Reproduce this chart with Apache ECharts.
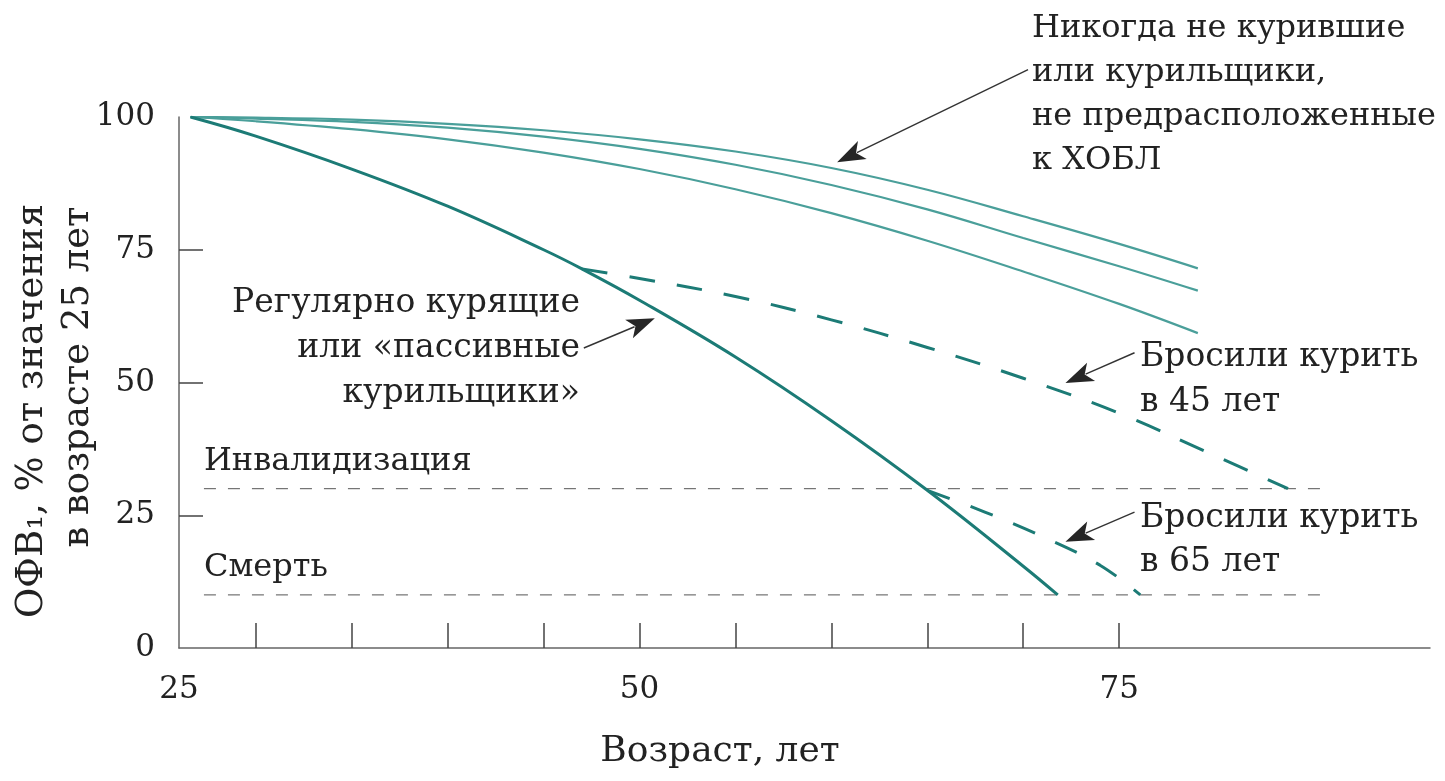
<!DOCTYPE html>
<html><head><meta charset="utf-8">
<script src="https://cdn.jsdelivr.net/npm/echarts@6/dist/echarts.min.js"></script>
<style>html,body{margin:0;padding:0;background:#fff}#c{width:1445px;height:781px}</style>
</head><body><div id="c"></div>
<script>
// ---- data ----
const smokerAge = [26.6, 30, 35, 40, 45, 47, 50, 55, 60, 65, 70, 71.8];
const smokerVal = [100, 96.4, 90.2, 83.2, 75.0, 71.4, 65.5, 54.8, 42.8, 29.7, 15.4, 10];

const quit45Age = [47, 50, 55, 60, 65, 70, 75, 80, 83.8];
const quit45Val = [71.4, 69.6, 66.2, 61.8, 56.6, 50.8, 44.2, 36.2, 30];

const quit65Age = [65, 68, 71, 74, 76.1];
const quit65Val = [29.7, 25.6, 21.0, 15.6, 10];

const healthyAge = [26.6, 30, 35, 40, 45, 50, 55, 60, 65, 70, 75, 79.1];
const healthyTop = [100, 99.9, 99.5, 98.7, 97.5, 95.8, 93.5, 90.4, 86.3, 81.3, 76.1, 71.5];
const healthyMid = [100, 99.7, 99.1, 98.0, 96.3, 94.0, 91.0, 87.2, 82.6, 77.2, 71.9, 67.3];
const healthyLow = [100, 99.2, 97.7, 95.8, 93.3, 90.2, 86.4, 81.9, 76.7, 70.9, 64.8, 59.3];

const refLevels = [30, 10];
const refLabels = ['Инвалидизация', 'Смерть'];
const refStart = 27.3, refEnd = 85.7;

const xTickValues = [30, 35, 40, 45, 50, 55, 60, 65, 70, 75];
const xLabelValues = [26, 50, 75];
const xLabelTexts = ['25', '50', '75'];
const yLabelValues = [0, 25, 50, 75, 100];
const yTickValues = [25, 50, 75];

const xTitle = 'Возраст, лет';
const yTitle1 = 'ОФВ₁, % от значения';
const yTitle2 = 'в возрасте 25 лет';

const noteHealthy = ['Никогда не курившие', 'или курильщики,', 'не предрасположенные', 'к ХОБЛ'];
const noteSmoker = ['Регулярно курящие', 'или «пассивные', 'курильщики»'];
const noteQuit45 = ['Бросили курить', 'в 45 лет'];
const noteQuit65 = ['Бросили курить', 'в 65 лет'];

// arrow anchors in data space: [tailAge, tailVal, tipAge, tipVal]
const arrowHealthy = [70.25, 108.9, 60.3, 91.5];
const arrowSmoker = [47.1, 56.5, 50.8, 62.1];
const arrowQuit45 = [75.8, 55.6, 72.2, 49.9];
const arrowQuit65 = [75.8, 25.6, 72.2, 20.0];

// ---- chart ----
const FONT = '"DejaVu Serif", "Liberation Serif", serif';
const zip = (a, b) => a.map((v, i) => [v, b[i]]);
const dark = '#1c7b76', light = '#4a9f9a';
const INK = '#222';

const chart = echarts.init(document.getElementById('c'));
const option = {
  animation: false,
  backgroundColor: '#fff',
  grid: { left: 179, right: 15, top: 117, bottom: 133 },
  xAxis: {
    type: 'value', min: 26, max: 91.2,
    axisLine: { lineStyle: { color: '#666', width: 1.5 } },
    axisTick: { inside: true, length: 25, customValues: xTickValues, lineStyle: { color: '#444', width: 1.5 } },
    axisLabel: { customValues: xLabelValues, formatter: v => xLabelTexts[xLabelValues.indexOf(v)],
      fontFamily: FONT, fontSize: 31, color: INK, margin: 26 },
    splitLine: { show: false }
  },
  yAxis: {
    type: 'value', min: 0, max: 100,
    axisLine: { show: true, lineStyle: { color: '#666', width: 1.5 } },
    axisTick: { show: true, inside: true, length: 24, customValues: yTickValues, lineStyle: { color: '#444', width: 1.5 } },
    axisLabel: { customValues: yLabelValues, fontFamily: FONT, fontSize: 31, color: INK, margin: 24 },
    splitLine: { show: false }
  },
  series: [
    ...refLevels.map(l => ({
      type: 'line', data: [[refStart, l], [refEnd, l]], symbol: 'none', silent: true,
      lineStyle: { color: '#555', width: 1, type: [12, 12] }
    })),
    { type: 'line', data: zip(healthyAge, healthyTop), smooth: 0.4, symbol: 'none', lineStyle: { color: light, width: 2.2 } },
    { type: 'line', data: zip(healthyAge, healthyMid), smooth: 0.4, symbol: 'none', lineStyle: { color: light, width: 2.2 } },
    { type: 'line', data: zip(healthyAge, healthyLow), smooth: 0.4, symbol: 'none', lineStyle: { color: light, width: 2.2 } },
    { type: 'line', data: zip(quit45Age, quit45Val), smooth: 0.4, symbol: 'none', lineStyle: { color: dark, width: 3, type: [26, 22] } },
    { type: 'line', data: zip(quit65Age, quit65Val), smooth: 0.4, symbol: 'none', lineStyle: { color: dark, width: 3, type: [24, 22] } },
    { type: 'line', data: zip(smokerAge, smokerVal), smooth: 0.4, symbol: 'none', lineStyle: { color: dark, width: 3 } }
  ]
};
chart.setOption(option);

const px = (a, v) => chart.convertToPixel({ gridIndex: 0 }, [a, v]);
const g = [];
function text(str, x, y, align, size) {
  g.push({ type: 'text', x: x, y: y, silent: true,
    style: { text: str, font: (size || 33) + 'px ' + FONT, fill: INK, textAlign: align || 'left', textVerticalAlign: 'middle' } });
}
function lines(arr, x, y0, step, align, size) { arr.forEach((s, i) => text(s, x, y0 + i * step, align, size)); }
function arrow(a) {
  const t = px(a[0], a[1]), h = px(a[2], a[3]);
  const dx = h[0] - t[0], dy = h[1] - t[1], L = Math.hypot(dx, dy), ux = dx / L, uy = dy / L;
  const hl = 28, hw = 10;
  const bx = h[0] - ux * hl, by = h[1] - uy * hl;
  g.push({ type: 'line', silent: true, shape: { x1: t[0], y1: t[1], x2: bx + ux * 6, y2: by + uy * 6 }, style: { stroke: '#333', lineWidth: 1.4 } });
  g.push({ type: 'polygon', silent: true, shape: { points: [[h[0], h[1]], [bx - uy * hw, by + ux * hw], [bx + ux * 7, by + uy * 7], [bx + uy * hw, by - ux * hw]] }, style: { fill: '#262626' } });
}
[arrowHealthy, arrowSmoker, arrowQuit45, arrowQuit65].forEach(arrow);

refLevels.forEach((l, i) => { const p = px(refStart, l); text(refLabels[i], p[0], p[1] - 27, 'left', 32); });

lines(noteHealthy, 1032, 29, 44, 'left', 32);
lines(noteSmoker, 580, 303, 45, 'right');
lines(noteQuit45, 1140, 357, 45);
lines(noteQuit65, 1140, 518, 44);

text(xTitle, 720, 752, 'center', 36);
g.push({ type: 'text', x: 32, y: 411, rotation: Math.PI / 2, silent: true,
  style: { text: yTitle1, font: '37px ' + FONT, fill: INK, textAlign: 'center', textVerticalAlign: 'middle' } });
g.push({ type: 'text', x: 78, y: 377, rotation: Math.PI / 2, silent: true,
  style: { text: yTitle2, font: '37px ' + FONT, fill: INK, textAlign: 'center', textVerticalAlign: 'middle' } });

chart.setOption({ graphic: g });
</script></body></html>
